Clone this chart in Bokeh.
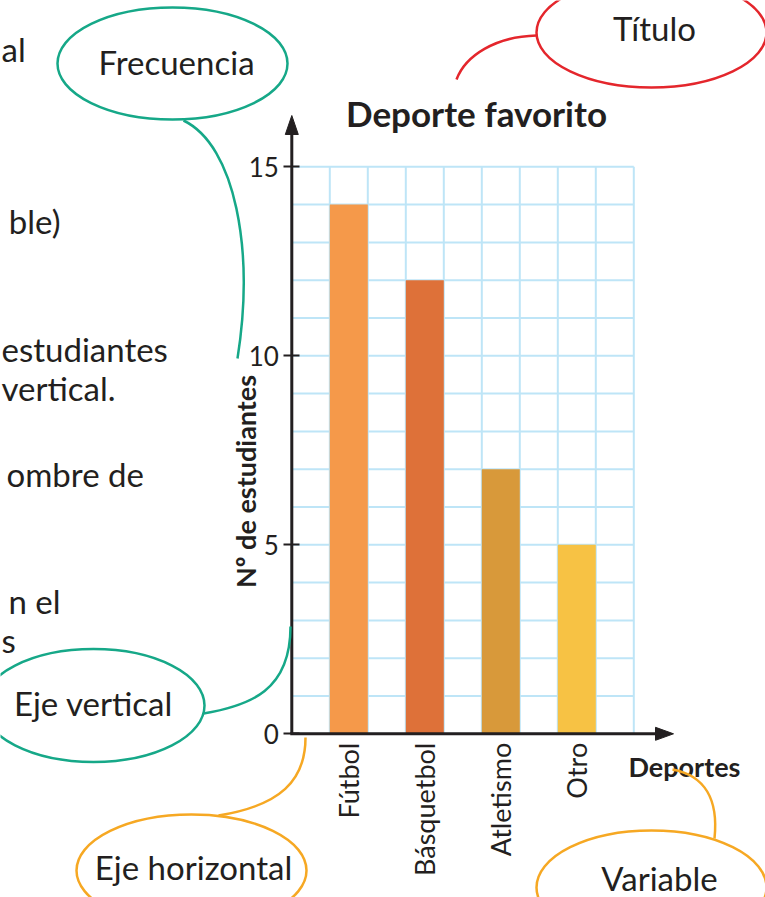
import math
from bokeh.plotting import figure
from bokeh.models import Range1d, FixedTicker
from bokeh.core.properties import value
from bokeh.embed import file_html
from bokeh.resources import INLINE

# ---------------- data ----------------
categories = ["Fútbol", "Básquetbol", "Atletismo", "Otro"]
students = [14, 12, 7, 5]
y_ticks = [0, 5, 10, 15]
chart_title = "Deporte favorito"
x_title = "Deportes"
y_title = "Nº de estudiantes"
callouts = ["Frecuencia", "Eje vertical", "Eje horizontal", "Título", "Variable"]
side_text = ["al", "ble)", "estudiantes", "vertical.", "ombre de", "n el", "s"]

# ---------------- styles ----------------
bar_colors = ["#F5994A", "#DE7139", "#D8993A", "#F7C244"]
INK = "#231F20"
GRID = "#BEE5F7"
GREEN = "#16A888"
RED = "#E4262C"
ORANGE = "#F6A823"
FONT = "Lato"

# ---------------- layout (screen px -> data) ----------------
W, H = 765, 897
AX0, AY0 = 291.3, 733.3   # screen position of the origin
UX, UY = 38.0, 37.8       # px per unit


def X(sx):
    return (sx - AX0) / UX


def Y(sy):
    return (AY0 - sy) / UY


p = figure(width=W, height=H,
           x_range=Range1d(X(0), X(W)),
           y_range=Range1d(Y(H), Y(0)),
           output_backend="svg", toolbar_location=None,
           min_border=0, outline_line_color=None)
p.xgrid.visible = False
p.ygrid.visible = False
p.background_fill_color = "white"
p.border_fill_color = "white"

n_cols = 2 * len(categories) + 1
y_max = y_ticks[-1]
bar_x = [2 * i + 1.5 for i in range(len(categories))]

# grid of squares
gx = list(range(n_cols + 1))
gy = list(range(y_max + 1))
p.segment(x0=gx, y0=[0] * len(gx), x1=gx, y1=[y_max] * len(gx),
          line_color=GRID, line_width=2)
p.segment(x0=[0] * len(gy), y0=gy, x1=[n_cols] * len(gy), y1=gy,
          line_color=GRID, line_width=2)

# bars
p.vbar(x=bar_x, top=students, bottom=0, width=1.0,
       fill_color=bar_colors, line_color=None)

# axis lines with arrow heads
p.segment(x0=[0, X(289.8)], y0=[0, 0], x1=[0, X(657)], y1=[Y(132), 0],
          line_color=INK, line_width=3)
hw = 6.5
p.patches(xs=[[0, X(AX0 - hw), X(AX0 + hw)], [X(673), X(655), X(655)]],
          ys=[[Y(115), Y(134), Y(134)], [0, Y(AY0 - hw), Y(AY0 + hw)]],
          fill_color=INK, line_color=INK, line_width=1)

# y axis (ticks + labels) fixed at x = 0
yax = p.yaxis[0]
yax.fixed_location = 0
yax.ticker = FixedTicker(ticks=y_ticks)
yax.axis_line_color = None
yax.major_tick_in = 8
yax.major_tick_out = 8
yax.major_tick_line_width = 2
yax.major_tick_line_color = INK
yax.minor_tick_line_color = None
yax.major_label_text_font = FONT
yax.major_label_text_font_size = "26px"
yax.major_label_text_color = INK
yax.major_label_standoff = 5

# x axis (category labels) fixed at y = 0
xax = p.xaxis[0]
xax.fixed_location = 0
xax.ticker = FixedTicker(ticks=bar_x)
xax.major_label_overrides = {x: c for x, c in zip(bar_x, categories)}
xax.major_label_orientation = math.pi / 2
xax.axis_line_color = None
xax.major_tick_in = 0
xax.major_tick_out = 0
xax.minor_tick_line_color = None
xax.major_label_text_font = FONT
xax.major_label_text_font_size = "27px"
xax.major_label_text_color = INK
xax.major_label_standoff = 9

# titles
p.text(x=[X(476)], y=[Y(112)], text=[chart_title], text_align="center",
       text_baseline="alphabetic", text_font=value(FONT), text_font_style="bold",
       text_font_size="35px", text_color=INK)
p.text(x=[X(628)], y=[Y(766)], text=[x_title], text_align="left",
       text_baseline="alphabetic", text_font=value(FONT), text_font_style="bold",
       text_font_size="27px", text_color=INK)
p.text(x=[X(245)], y=[Y(481)], text=[y_title], angle=math.pi / 2,
       text_align="center", text_baseline="alphabetic", text_font=value(FONT),
       text_font_style="bold", text_font_size="27px", text_color=INK)

# cut-off paragraph text on the left (visible parts only)
side_x = [1, 60, 1, 115, 6, 60, 1]
side_align = ["left", "right", "left", "right", "left", "right", "left"]
side_base = [48, 220, 348, 387, 473, 600, 639]
p.text(x=[X(s) for s in side_x], y=[Y(s) for s in side_base], text=side_text,
       text_align=side_align, text_baseline="alphabetic", text_font=value(FONT),
       text_font_size="33px", text_color=INK)

# callout ellipses
ell_cx = [172, 93, 191, 651, 651]
ell_cy = [63, 705, 870, 32, 887]
ell_w = [230, 222, 230, 230, 230]
ell_h = [112, 113, 112, 110, 114]
ell_col = [GREEN, GREEN, ORANGE, RED, ORANGE]
p.ellipse(x=[X(c) for c in ell_cx], y=[Y(c) for c in ell_cy],
          width=[w / UX for w in ell_w], height=[h / UY for h in ell_h],
          fill_color=None, line_color=ell_col, line_width=2.5)

lab_x = [176, 93, 193, 654, 659]
lab_y = [61, 702, 866, 27, 877]
p.text(x=[X(c) for c in lab_x], y=[Y(c) for c in lab_y], text=callouts,
       text_align="center", text_baseline="middle", text_font=value(FONT),
       text_font_size="33px", text_color=INK)

# connector curves
curves = [
    # x0, y0, cx0, cy0, cx1, cy1, x1, y1, color
    (183, 120, 235, 145, 254, 250, 237, 358, GREEN),
    (203, 713, 250, 705, 290, 690, 290, 626, GREEN),
    (218, 815, 280, 805, 305, 780, 305, 737, ORANGE),
    (536, 35, 495, 36, 465, 55, 456, 79, RED),
    (714, 838, 718, 800, 705, 775, 672, 769, ORANGE),
]
p.bezier(x0=[X(c[0]) for c in curves], y0=[Y(c[1]) for c in curves],
         cx0=[X(c[2]) for c in curves], cy0=[Y(c[3]) for c in curves],
         cx1=[X(c[4]) for c in curves], cy1=[Y(c[5]) for c in curves],
         x1=[X(c[6]) for c in curves], y1=[Y(c[7]) for c in curves],
         line_color=[c[8] for c in curves], line_width=2.5)

open("out.html", "w").write(file_html(p, INLINE))
